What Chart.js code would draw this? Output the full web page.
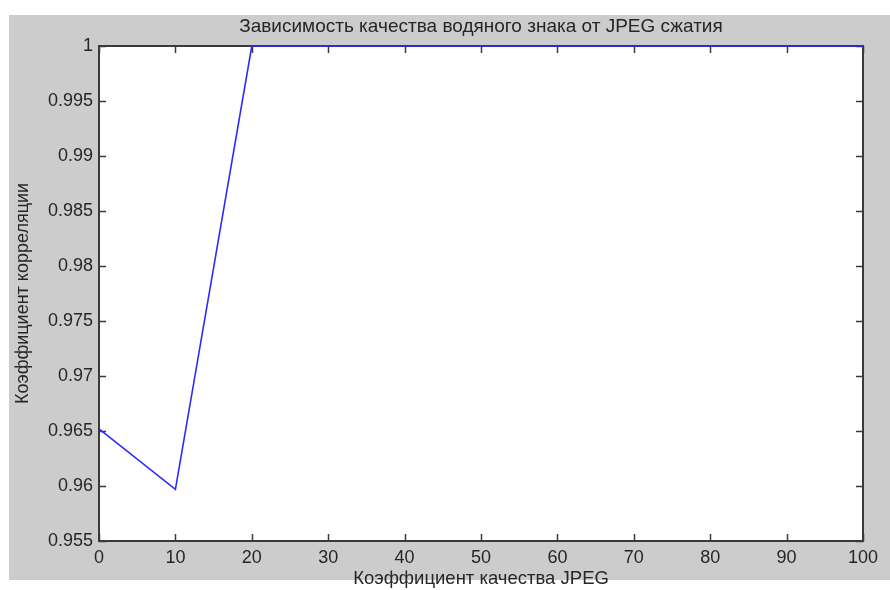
<!DOCTYPE html>
<html lang="ru">
<head>
  <meta charset="UTF-8">
  <title>Зависимость качества водяного знака от JPEG сжатия</title>
  <script src="https://cdn.jsdelivr.net/npm/chart.js"></script>
  <style>
    html, body { margin: 0; padding: 0; background: #fff; }
    #wrap { width: 890px; height: 590px; position: relative; }
  </style>
</head>
<body>
  <div id="wrap"><canvas id="chart" width="890" height="590"></canvas></div>

  <script>
    // data
    const qualityLevels = [0, 10, 20, 30, 40, 50, 60, 70, 80, 90, 100];
    const correlation = [0.9652, 0.9597, 1, 1, 1, 1, 1, 1, 1, 1, 1];
    const xTicks = [0, 10, 20, 30, 40, 50, 60, 70, 80, 90, 100];
    const yTicks = [0.955, 0.96, 0.965, 0.97, 0.975, 0.98, 0.985, 0.99, 0.995, 1];

    const titleText = 'Зависимость качества водяного знака от JPEG сжатия';
    const xLabel = 'Коэффициент качества JPEG';
    const yLabel = 'Коэффициент корреляции';

    const FONT = 'Liberation Sans, Arial, sans-serif';
    const TEXT = '#262626';

    // gray figure background + white axes box with inward ticks, MATLAB style
    const matlabFrame = {
      id: 'matlabFrame',
      beforeDraw(chart) {
        const { ctx, chartArea: a } = chart;
        ctx.save();
        ctx.fillStyle = '#cccccc';
        ctx.fillRect(9, 15, 881, 565);
        ctx.fillStyle = '#ffffff';
        ctx.fillRect(a.left, a.top, a.right - a.left, a.bottom - a.top);
        ctx.restore();
      },
      beforeDatasetsDraw(chart) {
        const { ctx, chartArea: a, scales } = chart;
        const len = 7;
        ctx.save();
        ctx.strokeStyle = '#3a3a3a';
        ctx.lineWidth = 1.5;
        ctx.beginPath();
        scales.x.ticks.forEach(t => {
          const px = Math.round(scales.x.getPixelForValue(t.value)) + 0.5;
          ctx.moveTo(px, a.bottom); ctx.lineTo(px, a.bottom - len);
          ctx.moveTo(px, a.top); ctx.lineTo(px, a.top + len);
        });
        scales.y.ticks.forEach(t => {
          const py = Math.round(scales.y.getPixelForValue(t.value)) + 0.5;
          ctx.moveTo(a.left, py); ctx.lineTo(a.left + len, py);
          ctx.moveTo(a.right, py); ctx.lineTo(a.right - len, py);
        });
        ctx.stroke();
        ctx.lineWidth = 2;
        ctx.strokeRect(a.left, a.top, a.right - a.left, a.bottom - a.top);
        ctx.restore();
      }
    };

    new Chart(document.getElementById('chart'), {
      type: 'scatter',
      data: {
        datasets: [{
          data: qualityLevels.map((q, i) => ({ x: q, y: correlation[i] })),
          showLine: true,
          borderColor: '#2a2aff',
          borderWidth: 1.6,
          pointRadius: 0,
          tension: 0,
          clip: 3
        }]
      },
      options: {
        responsive: false,
        animation: false,
        layout: { padding: { top: 0, right: 27, bottom: 0, left: 0 } },
        plugins: {
          legend: { display: false },
          tooltip: { enabled: false },
          title: { display: false }
        },
        scales: {
          x: {
            type: 'linear',
            min: 0,
            max: 100,
            afterBuildTicks: s => { s.ticks = xTicks.map(v => ({ value: v })); },
            afterFit: s => { s.height = 49; },
            grid: { display: false, drawTicks: false },
            border: { display: false },
            ticks: {
              color: TEXT,
              padding: 6,
              maxRotation: 0,
              font: { family: FONT, size: 18 }
            },
            title: {
              display: true,
              text: xLabel,
              color: TEXT,
              font: { family: FONT, size: 18.5 },
              padding: { top: 0, bottom: 0 }
            }
          },
          // top axis only carries the chart title, centred over the plot box
          xTop: {
            type: 'linear',
            position: 'top',
            min: 0,
            max: 100,
            afterFit: s => { s.height = 46; },
            grid: { display: false, drawTicks: false },
            border: { display: false },
            ticks: { display: false },
            title: {
              display: true,
              text: titleText,
              color: TEXT,
              font: { family: FONT, size: 19 },
              padding: { top: 15, bottom: 0 }
            }
          },
          y: {
            min: 0.955,
            max: 1,
            afterBuildTicks: s => { s.ticks = yTicks.map(v => ({ value: v })); },
            afterFit: s => { s.width = 99; },
            grid: { display: false, drawTicks: false },
            border: { display: false },
            ticks: {
              color: TEXT,
              padding: 6,
              font: { family: FONT, size: 18 },
              callback: v => String(parseFloat(v.toFixed(3)))
            },
            title: {
              display: true,
              text: yLabel,
              color: TEXT,
              font: { family: FONT, size: 18 },
              padding: { top: 12, bottom: 0 }
            }
          }
        }
      },
      plugins: [matlabFrame]
    });
  </script>
</body>
</html>
